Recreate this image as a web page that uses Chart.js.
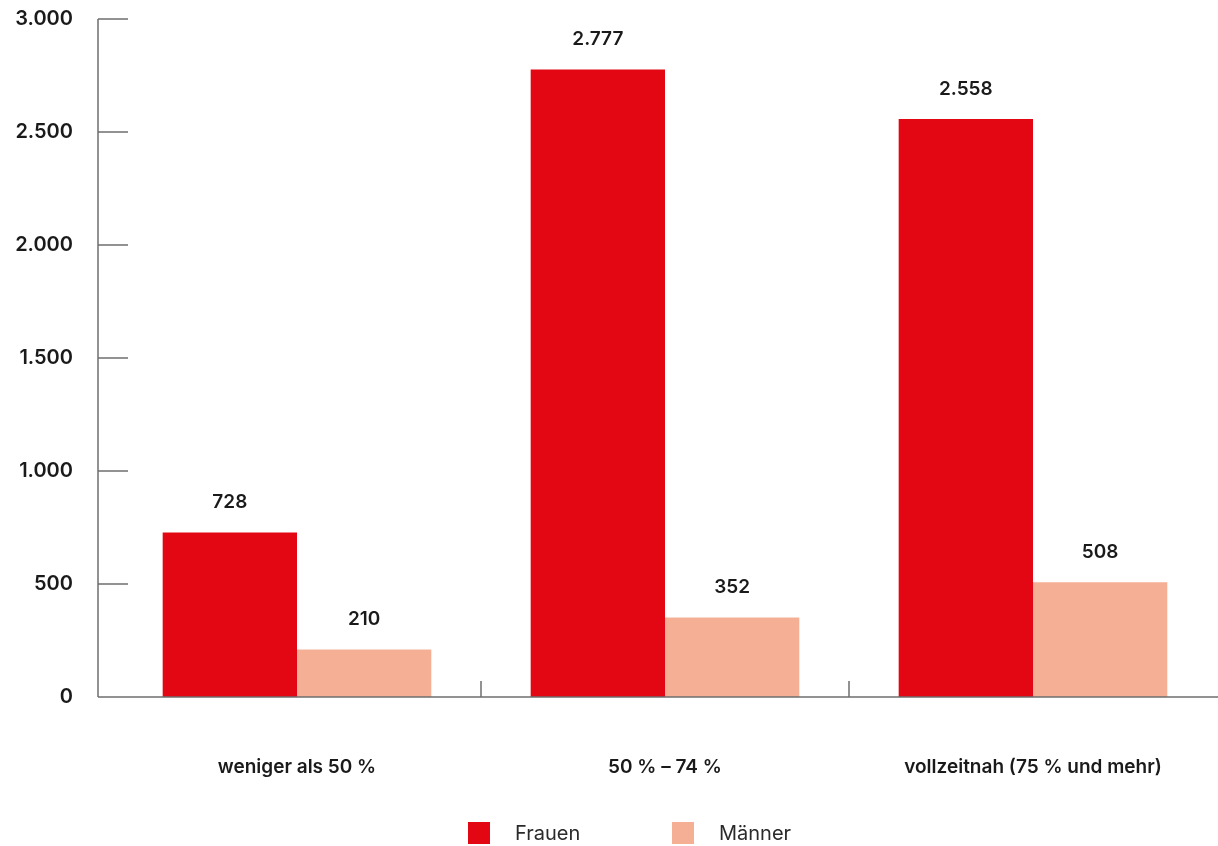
<!DOCTYPE html>
<html lang="de">
<head>
<meta charset="utf-8">
<title>Teilzeitbeschäftigte nach Arbeitszeitumfang</title>
<script src="https://cdn.jsdelivr.net/npm/chart.js@4/dist/chart.umd.min.js"></script>
<style>
  html, body { margin: 0; padding: 0; background: #ffffff; }
  #wrap { width: 1218px; height: 846px; position: relative; }
</style>
</head>
<body>
<div id="wrap"><canvas id="chart" width="1218" height="846"></canvas></div>
<script>
// Kategorien (Arbeitszeitumfang)
const categories = ['weniger als 50 %', '50 % – 74 %', 'vollzeitnah (75 % und mehr)'];
// Anzahl Beschäftigte
const frauen = [728, 2777, 2558];
const maenner = [210, 352, 508];
const seriesNames = ['Frauen', 'Männer'];
const yTicks = [0, 500, 1000, 1500, 2000, 2500, 3000];

const RED = '#e30613';
const SALMON = '#f4af95';
const TEXT = '#1a1a1a';
const AXIS = '#6e6e6e';
const FONT = 'Inter, "Liberation Sans", Arial, sans-serif';

function fmt(v) {
  return String(v).replace(/\B(?=(\d{3})+(?!\d))/g, '.');
}

// Achsen, Beschriftungen, Werte und Legende
const decorations = {
  id: 'decorations',
  afterDatasetsDraw(chart) {
    const ctx = chart.ctx;
    const x = chart.scales.x;
    const y = chart.scales.y;
    const axisX = 98;
    const y0 = y.getPixelForValue(0);
    ctx.save();
    ctx.strokeStyle = AXIS;
    ctx.lineWidth = 1.5;
    // y-Achse
    ctx.beginPath();
    ctx.moveTo(axisX, y.getPixelForValue(yTicks[yTicks.length - 1]));
    ctx.lineTo(axisX, y0);
    ctx.stroke();
    // y-Teilstriche und Beschriftung
    ctx.fillStyle = TEXT;
    ctx.font = '600 20px ' + FONT;
    ctx.textAlign = 'right';
    ctx.textBaseline = 'middle';
    yTicks.forEach(v => {
      const py = y.getPixelForValue(v);
      if (v !== 0) {
        ctx.beginPath();
        ctx.moveTo(axisX, py);
        ctx.lineTo(axisX + 30, py);
        ctx.stroke();
      }
      ctx.fillText(fmt(v), 73, py);
    });
    // x-Achse
    ctx.beginPath();
    ctx.moveTo(axisX, y0);
    ctx.lineTo(chart.width, y0);
    ctx.stroke();
    // Trennstriche zwischen Kategorien
    for (let i = 1; i < categories.length; i++) {
      const px = (x.getPixelForValue(i - 1) + x.getPixelForValue(i)) / 2;
      ctx.beginPath();
      ctx.moveTo(px, y0);
      ctx.lineTo(px, y0 - 16);
      ctx.stroke();
    }
    // Kategorienbeschriftung
    ctx.textAlign = 'center';
    ctx.font = '600 19px ' + FONT;
    categories.forEach((c, i) => {
      ctx.fillText(c, x.getPixelForValue(i), 767);
    });
    // Werte über den Balken
    ctx.font = '600 19px ' + FONT;
    chart.data.datasets.forEach((ds, di) => {
      const meta = chart.getDatasetMeta(di);
      meta.data.forEach((bar, i) => {
        ctx.fillText(fmt(ds.data[i]), bar.x, bar.y - 30);
      });
    });
    // Legende
    const cx = chart.width / 2;
    const items = [
      { label: seriesNames[0], color: RED, left: cx - 141 },
      { label: seriesNames[1], color: SALMON, left: cx + 63 }
    ];
    ctx.font = '400 20px ' + FONT;
    ctx.textAlign = 'left';
    items.forEach(it => {
      ctx.fillStyle = it.color;
      ctx.fillRect(it.left, 822, 22, 22);
      ctx.fillStyle = '#2a2a2a';
      ctx.fillText(it.label, it.left + 47, 834);
    });
    ctx.restore();
  }
};

new Chart(document.getElementById('chart'), {
  type: 'bar',
  data: {
    labels: categories,
    datasets: [
      { label: seriesNames[0], data: frauen, backgroundColor: RED },
      { label: seriesNames[1], data: maenner, backgroundColor: SALMON }
    ]
  },
  options: {
    responsive: false,
    animation: false,
    events: [],
    layout: { padding: { top: 19, right: 1, bottom: 149, left: 0 } },
    datasets: { bar: { categoryPercentage: 0.73, barPercentage: 1.0 } },
    plugins: {
      legend: { display: false },
      tooltip: { enabled: false }
    },
    scales: {
      x: {
        afterFit(scale) { scale.height = 0; },
        grid: { display: false, drawTicks: false },
        border: { display: false },
        ticks: { display: false }
      },
      y: {
        min: 0,
        max: 3000,
        afterFit(scale) { scale.width = 113; },
        afterBuildTicks(scale) { scale.ticks = yTicks.map(v => ({ value: v })); },
        grid: { display: false, drawTicks: false },
        border: { display: false },
        ticks: { display: false }
      }
    }
  },
  plugins: [decorations]
});
</script>
</body>
</html>
